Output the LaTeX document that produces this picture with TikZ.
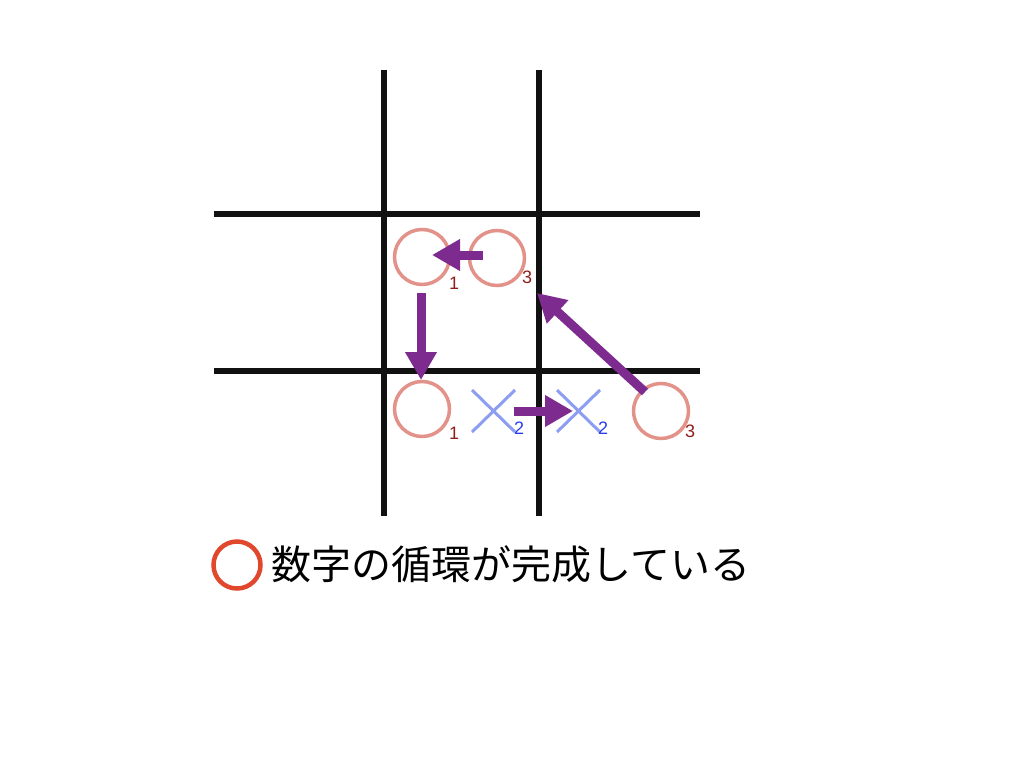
\documentclass[tikz,border=0pt]{standalone}
\usepackage{fontspec}
\setmainfont{Liberation Sans}
\newfontfamily\cjk{Noto Sans CJK JP}
\usetikzlibrary{arrows.meta}
\definecolor{gridc}{HTML}{111111}
\definecolor{ringc}{HTML}{E3928A}
\definecolor{numred}{HTML}{8E1E1A}
\definecolor{crossc}{HTML}{8C9DF2}
\definecolor{numblue}{HTML}{2A3CF0}
\definecolor{arrowc}{HTML}{7D2B8E}
\definecolor{legc}{HTML}{E0472C}
\tikzset{
  gridline/.style={draw=gridc, line width=5.5pt},
  ring/.style={circle, draw=ringc, line width=3.5pt, minimum size=55pt, inner sep=0pt},
  numr/.style={text=numred, font=\fontsize{18}{18}\selectfont, inner sep=0pt},
  numb/.style={text=numblue, font=\fontsize{18}{18}\selectfont, inner sep=0pt},
  crossline/.style={draw=crossc, line width=3pt},
  fatarrow/.style={draw=arrowc, line width=9pt, -{Triangle[width=30pt,length=28pt]}},
}
\begin{document}
\begin{tikzpicture}[x=1pt,y=-1pt]
\useasboundingbox (0,0) rectangle (1024,768);
% grid
\coordinate (v1t) at (384,70); \coordinate (v1b) at (384,516);
\coordinate (v2t) at (539,70); \coordinate (v2b) at (539,516);
\coordinate (h1l) at (214,214); \coordinate (h1r) at (700,214);
\coordinate (h2l) at (214,371); \coordinate (h2r) at (700,371);
\draw[gridline] (v1t) -- (v1b);
\draw[gridline] (v2t) -- (v2b);
\draw[gridline] (h1l) -- (h1r);
\draw[gridline] (h2l) -- (h2r);
% rings
\node[ring] (c1) at (422,257) {};
\node[ring] (c3) at (497,258) {};
\node[ring] (d1) at (422,409) {};
\node[ring] (d3) at (661,411) {};
\node[numr] (l1) at (454,283) {1};
\node[numr] (l3) at (527,277) {3};
\node[numr] (m1) at (454,433) {1};
\node[numr] (m3) at (690,431) {3};
% crosses
\coordinate (x1a) at (472,390); \coordinate (x1b) at (515,432);
\coordinate (x1c) at (515,390); \coordinate (x1d) at (472,432);
\draw[crossline] (x1a) -- (x1b);
\draw[crossline] (x1c) -- (x1d);
\coordinate (x2a) at (557,390); \coordinate (x2b) at (600,432);
\coordinate (x2c) at (600,390); \coordinate (x2d) at (557,432);
\draw[crossline] (x2a) -- (x2b);
\draw[crossline] (x2c) -- (x2d);
\node[numb] (b1) at (519,428) {2};
\node[numb] (b2) at (603,428) {2};
% arrows
\coordinate (a1s) at (483,255); \coordinate (a1e) at (432,255);
\coordinate (a2s) at (421,293); \coordinate (a2e) at (421,380);
\coordinate (a3s) at (514,411); \coordinate (a3e) at (573,411);
\coordinate (a4s) at (645,392); \coordinate (a4e) at (537,293);
\draw[fatarrow] (a1s) -- (a1e);
\draw[fatarrow] (a2s) -- (a2e);
\draw[fatarrow] (a3s) -- (a3e);
\draw[fatarrow] (a4s) -- (a4e);
% legend
\node[circle, draw=legc, line width=4.5pt, minimum size=47pt, inner sep=0pt] (leg) at (237,565) {};
\node[anchor=west, inner sep=0pt, font=\cjk\fontsize{40}{40}\selectfont] (legtext) at (271,564) {数字の循環が完成している};
\end{tikzpicture}
\end{document}
